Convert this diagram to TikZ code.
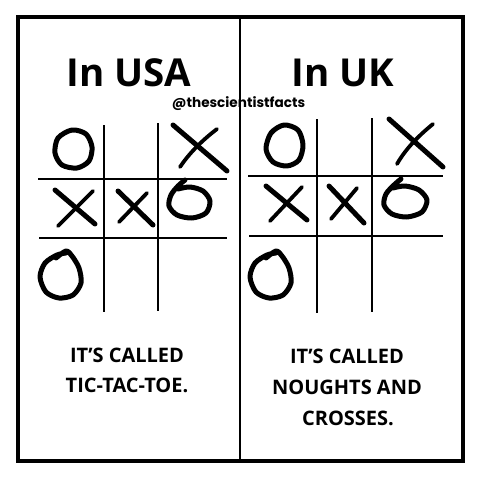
\documentclass[tikz,border=0pt]{standalone}
\usepackage{fontspec}
\setmainfont{Open Sans}
\newfontfamily\titlefont{Open Sans}
\newfontfamily\bodyfont{Open Sans}
\newfontfamily\markfont{Poppins}
\begin{document}
\begin{tikzpicture}[x=1pt,y=-1pt,
  frame/.style={line width=4pt},
  divider/.style={line width=2pt},
  gridline/.style={line width=2pt},
  pen/.style={line width=5pt,line cap=round,line join=round},
  thinpen/.style={line width=3.8pt,line cap=round,line join=round},
  title/.style={anchor=base,inner sep=0pt,font=\titlefont\bfseries\fontsize{38.5}{38.5}\selectfont},
  body/.style={anchor=base,inner sep=0pt,font=\bodyfont\bfseries\fontsize{20}{20}\selectfont},
  wm/.style={anchor=base,inner sep=0pt,font=\markfont\bfseries\fontsize{13.6}{13.6}\selectfont}]
\useasboundingbox[fill=white] (0,0) rectangle (480,490);
% watermark
\node[wm] (wm) at (238.5,107) {@thescientistfacts};
% frame and divider
\draw[frame] (18,17) rectangle (462.5,460.5);
\coordinate (dtop) at (240,17);
\coordinate (dbot) at (240,460.5);
\draw[divider] (dtop) -- (dbot);
% titles
\node[title] (usa) at (129,86) {In USA};
\node[title] (uk) at (343,86) {In UK};
% left grid
\draw[gridline] (104,125) -- (104,312);
\draw[gridline] (158,123) -- (158,311);
\draw[gridline] (38,179) -- (227,179);
\draw[gridline] (39,238) -- (227,238);
% right grid
\draw[gridline] (317,119) -- (317,313);
\draw[gridline] (372,118) -- (372,312);
\draw[gridline] (248,176) -- (443,176);
\draw[gridline] (249,236) -- (443,236);
% left marks
\draw[pen] plot[smooth cycle] coordinates {(72,130) (86,134) (92,147) (89,161) (77,168) (62,165) (55,153) (58,138)};
\draw[pen] (173,125) -- (227,171);
\draw[thinpen] (217,129) .. controls (200,142) and (188,155) .. (180,167);
\draw[pen] (55,190) -- (95,224);
\draw[thinpen] (93,191) -- (58,226);
\draw[pen] (118,191) -- (153,225);
\draw[thinpen] (147,193) -- (119,222);
\draw[pen] plot[smooth] coordinates {(185,180) (178,186) (171,195) (169,206) (177,215) (192,218) (206,213) (210,201) (203,191) (190,187) (178,189)};
\draw[pen] plot[smooth] coordinates {(56,258) (66,251) (72,256) (79,268) (81,283) (73,295) (59,298) (46,292) (40,277) (45,263) (57,255) (66,253)};
% right marks
\draw[pen] plot[smooth cycle] coordinates {(284,125) (298,130) (303,145) (299,160) (287,166) (273,162) (266,149) (271,133)};
\draw[pen] (389,119) -- (443,167);
\draw[thinpen] (433,124) .. controls (417,137) and (405,150) .. (397,164);
\draw[pen] (266,186) -- (307,220);
\draw[thinpen] (302,187) -- (270,221);
\draw[pen] (329,186) -- (364,223);
\draw[thinpen] (357,188) -- (331,219);
\draw[pen] plot[smooth] coordinates {(401,179) (394,185) (386,194) (384,205) (392,214) (407,217) (422,212) (427,200) (419,190) (405,186) (393,188)};
\draw[pen] plot[smooth] coordinates {(266,258) (276,251) (282,256) (289,268) (291,283) (283,295) (269,298) (256,292) (250,277) (255,263) (267,255) (276,253)};
% bottom texts
\node[body] (l1) at (127,362) {IT’S CALLED};
\node[body] (l2) at (127,392) {TIC-TAC-TOE.};
\node[body] (r1) at (347,363) {IT’S CALLED};
\node[body] (r2) at (347,394) {NOUGHTS AND};
\node[body] (r3) at (348,425) {CROSSES.};
\end{tikzpicture}
\end{document}
